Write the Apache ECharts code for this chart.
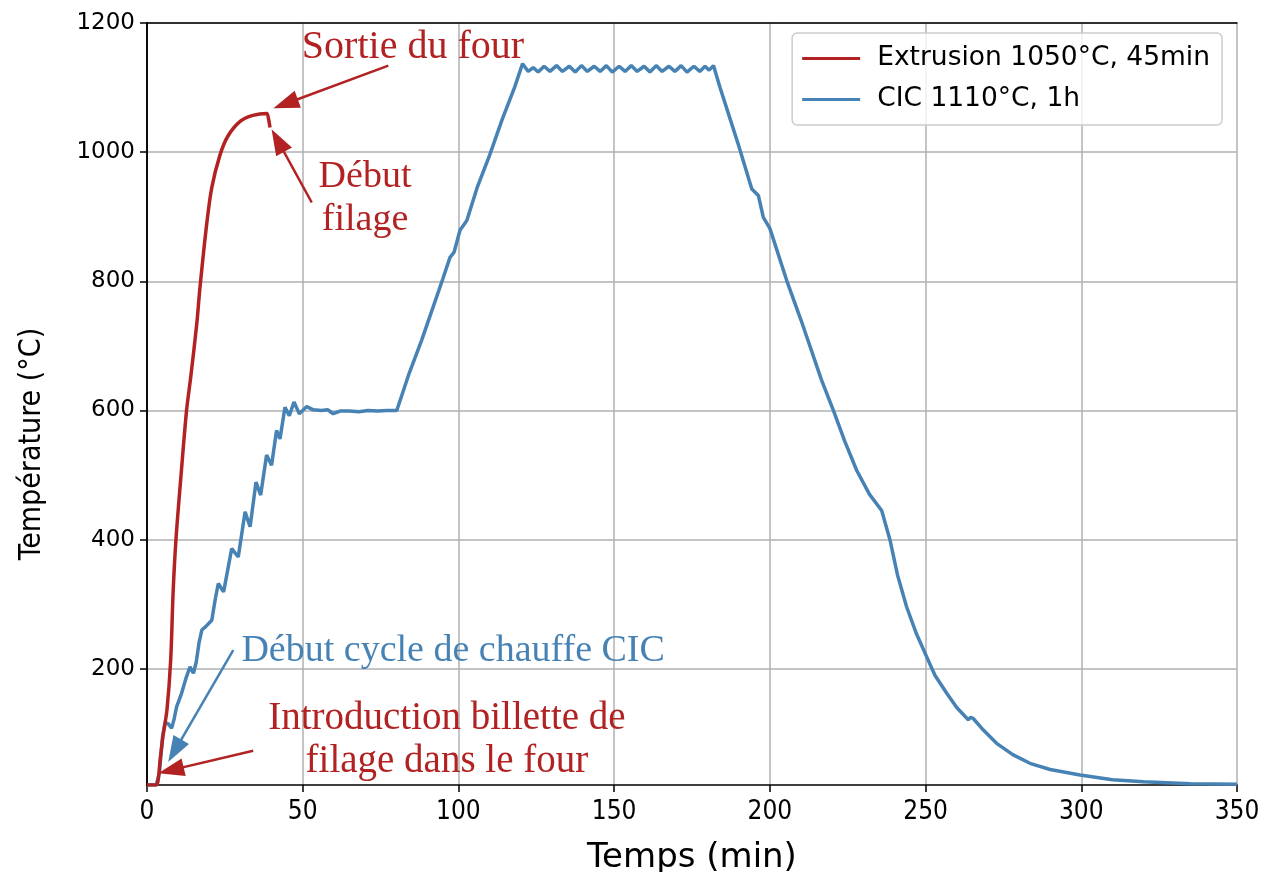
<!DOCTYPE html>
<html>
<head>
<meta charset="utf-8">
<script src="https://cdn.jsdelivr.net/npm/echarts@6/dist/echarts.min.js"></script>
<style>
  html, body { margin: 0; padding: 0; background: #fff; }
  #chart { width: 1266px; height: 872px; }
</style>
</head>
<body>
<div id="chart"></div>
<script>
// courbe extrusion (rouge)
var redTime = [0, 3, 3.6, 4.2, 5.2, 6.4, 7.6, 8.4, 9.3, 10.8, 12.7, 14, 16, 17, 19.2, 20.8, 23.4, 26, 30, 34, 38.4, 39, 39.5];
var redTemp = [20, 20, 28, 58, 98, 136, 213, 320, 400, 492, 600, 650, 735, 790, 890, 945, 995, 1025, 1048, 1057, 1060, 1052, 1038];

// courbe CIC (bleu)
var blueTime = [0, 3, 4, 5, 5.8, 6.8, 7.9, 8.7, 9.5, 11.1, 12.5, 13.8, 14.9, 15.8, 16.7, 17.6, 19, 20.8, 22, 22.9, 24.6,
  27.2, 29.3, 31.5, 33.1, 35, 36.5, 38.4, 40, 41.6, 42.7, 44.3, 45.7, 47.2, 48.9, 51.3, 53.4, 56, 58, 59.8, 62, 65, 68, 71, 74, 77, 80.2,
  84, 88.2, 92, 95, 97.3, 98.6, 100.5, 102.7, 106, 110, 114, 118, 120.6,
  122.4, 124, 125.6, 127.5, 129.4, 131.5, 133.4, 135.6, 137.5, 139.5, 141.4, 143.6, 145.5, 147.5, 149.4, 151.6, 153.5, 155.5,
  157.4, 159.6, 161.5, 163.5, 165.4, 167.6, 169.5, 171.5, 173.4, 175.6, 177.5, 179.2, 180.5, 181.9,
  184, 187, 190, 194.2, 196.3, 197.9, 200, 205.5, 210, 216.6, 220.4, 224, 227.9, 232, 235.9, 238.6, 241, 243.9, 247, 250.4,
  253, 256.8, 260, 263.7, 264.5, 265.3, 268, 272.8, 278, 283.5, 290, 299.6, 310, 320, 335, 350];
var blueTemp = [20, 20, 40, 95, 116, 115, 108, 122, 141, 162, 185, 203, 193, 210, 240, 260, 266, 275, 310, 332, 319,
  386, 373, 443, 420, 489, 469, 531, 515, 569, 556, 605, 592, 613, 595, 606, 601, 600, 601, 595, 599, 599, 598, 600, 599, 600, 600,
  655, 709, 762, 804, 837, 845, 879, 894, 945, 995, 1050, 1100, 1137,
  1125, 1131, 1124, 1133, 1125, 1134, 1125, 1133, 1124, 1134, 1125, 1133, 1125, 1134, 1124, 1133, 1125, 1134,
  1125, 1133, 1124, 1134, 1125, 1133, 1125, 1134, 1124, 1133, 1125, 1133, 1127, 1134,
  1100, 1055, 1010, 943, 933, 899, 882, 800, 740, 647, 600, 553, 507, 470, 445, 399, 345, 296, 255, 218,
  190, 162, 140, 121, 125, 123, 108, 84.5, 67, 53.6, 44, 35.5, 28, 25, 22, 21];

var seriesNames = ['Extrusion 1050°C, 45min', 'CIC 1110°C, 1h'];
var xTicks = [0, 50, 100, 150, 200, 250, 300, 350];
var yTicks = [200, 400, 600, 800, 1000, 1200];

// annotations (coordonnées en données)
var noteTexts = ['Sortie du four', 'Début\nfilage', 'Début cycle de chauffe CIC', 'Introduction billette de\nfilage dans le four'];
var notePos = [[85.4, 1162], [70, 928], [98.3, 227], [96.3, 88]];
var noteSizes = [40, 38, 38, 39];
var arrowFrom = [[77.5, 1134], [52.9, 922], [27.7, 229], [34.1, 73]];
var arrowTo = [[44.5, 1075], [42.0, 1018], [8.9, 73], [7.7, 43]];

var RED = '#b22222';
var BLUE = '#4682b4';
var noteColors = [RED, RED, BLUE, RED];

function zip(a, b) {
    var out = [];
    for (var i = 0; i < a.length; i++) out.push([a[i], b[i]]);
    return out;
}

var myChart = echarts.init(document.getElementById('chart'));

var arrows = [];
var notes = [];
for (var i = 0; i < noteTexts.length; i++) {
    arrows.push([
        { coord: arrowFrom[i], lineStyle: { color: noteColors[i] }, itemStyle: { color: noteColors[i] } },
        { coord: arrowTo[i] }
    ]);
    notes.push({
        coord: notePos[i],
        symbolSize: 1,
        itemStyle: { color: 'rgba(0,0,0,0)' },
        label: {
            show: true, position: 'inside', formatter: noteTexts[i],
            color: noteColors[i], fontFamily: 'Liberation Serif', fontSize: noteSizes[i], lineHeight: 43, align: 'center'
        }
    });
}

var frameAxis = {
    show: true,
    axisLine: { show: true, lineStyle: { color: '#000', width: 1.5 } },
    axisTick: { show: false },
    axisLabel: { show: false },
    splitLine: { show: false }
};

var option = {
    animation: false,
    backgroundColor: '#fff',
    grid: { left: 147, right: 29, top: 23, bottom: 87, outerBoundsMode: 'none', containLabel: false },
    legend: {
        data: seriesNames,
        orient: 'vertical',
        right: 44, top: 33,
        padding: [12, 12, 12, 10],
        itemGap: 14,
        itemWidth: 58, itemHeight: 3,
        icon: 'rect',
        borderColor: '#ccc', borderWidth: 1.5, borderRadius: 5,
        backgroundColor: 'rgba(255,255,255,0.8)',
        textStyle: { fontFamily: 'DejaVu Sans', fontSize: 26.5, color: '#000', padding: [0, 0, 0, 12] }
    },
    xAxis: [{
        type: 'value', min: 0, max: 350, interval: 50,
        name: 'Temps (min)', nameLocation: 'middle', nameGap: 56,
        nameTextStyle: { fontFamily: 'DejaVu Sans', fontSize: 34, color: '#000' },
        axisLine: { lineStyle: { color: '#000', width: 1.5 } },
        axisTick: { show: true, inside: false, length: 7, lineStyle: { color: '#000', width: 1.5 } },
        axisLabel: { fontFamily: 'DejaVu Sans Condensed', fontSize: 26, color: '#000', margin: 14,
            customValues: xTicks },
        splitLine: { show: true, lineStyle: { color: '#b0b0b0', width: 1.5 } }
    }, Object.assign({ type: 'value', position: 'top', min: 0, max: 350 }, frameAxis)],
    yAxis: [{
        type: 'value', min: 20, max: 1200,
        name: 'Température (°C)', nameLocation: 'middle', nameGap: 100, nameRotate: 90,
        nameTextStyle: { fontFamily: 'DejaVu Sans Condensed', fontSize: 30, color: '#000', padding: [0, 80, 0, 0] },
        axisLine: { lineStyle: { color: '#000', width: 1.5 } },
        axisTick: { show: true, inside: false, length: 7, lineStyle: { color: '#000', width: 1.5 }, customValues: yTicks },
        axisLabel: { fontFamily: 'DejaVu Sans', fontSize: 23, color: '#000', margin: 12, customValues: yTicks,
            formatter: function (v) { return String(v); } },
        splitLine: { show: true, lineStyle: { color: '#b0b0b0', width: 1.5 } }
    }, Object.assign({ type: 'value', position: 'right', min: 20, max: 1200 }, frameAxis)],
    series: [
        {
            name: seriesNames[0],
            type: 'line',
            data: zip(redTime, redTemp),
            showSymbol: false,
            smooth: 0.3,
            color: RED,
            lineStyle: { width: 3.5, color: RED },
            z: 3,
            markLine: {
                silent: true,
                symbol: ['none', 'triangle'],
                symbolSize: [18, 26],
                label: { show: false },
                lineStyle: { type: 'solid', width: 2.5 },
                data: arrows
            },
            markPoint: { silent: true, data: notes }
        },
        {
            name: seriesNames[1],
            type: 'line',
            data: zip(blueTime, blueTemp),
            showSymbol: false,
            color: BLUE,
            lineStyle: { width: 3.5, color: BLUE },
            z: 2
        }
    ]
};
myChart.setOption(option);
</script>
</body>
</html>
